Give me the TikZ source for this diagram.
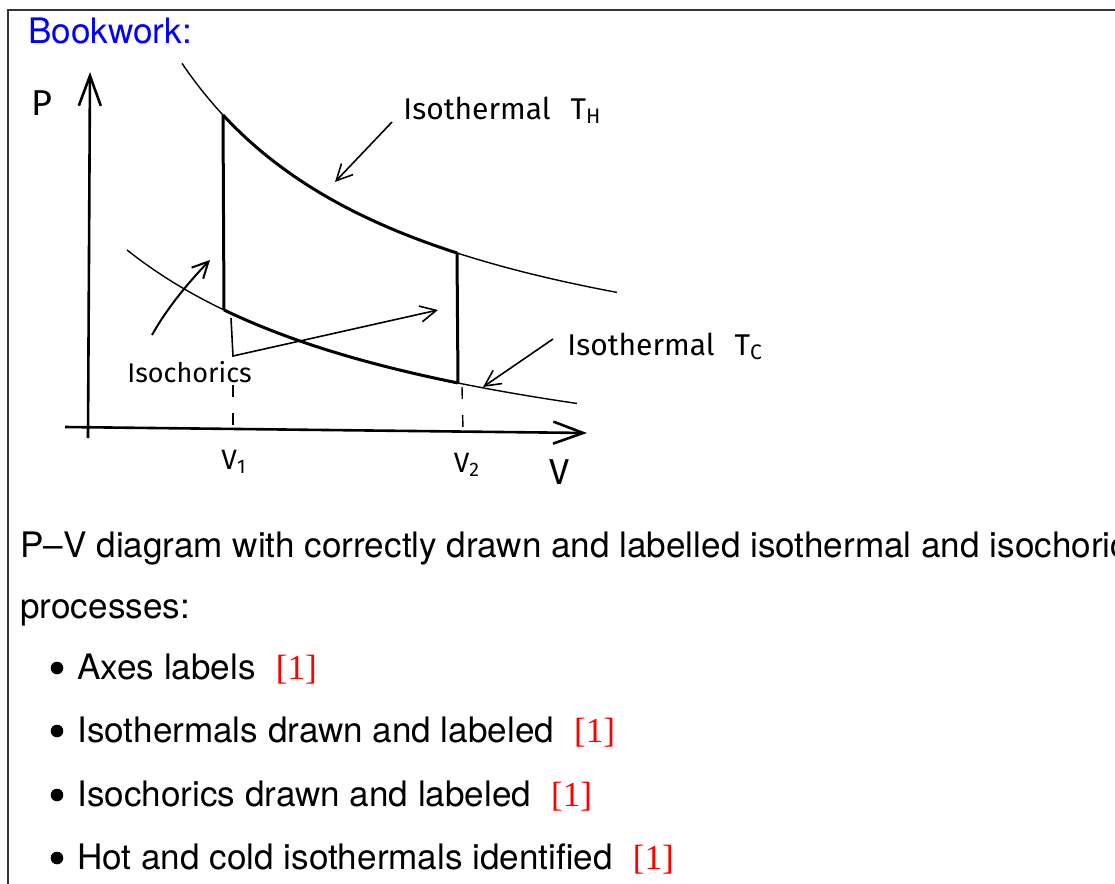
\documentclass[tikz,border=0pt]{standalone}
\usepackage{fontspec}
\setmainfont{TeX Gyre Heros}
\newfontfamily\handfont{Fira Sans}
\newfontfamily\markfont{Liberation Serif}
\usepackage{xcolor}
\usetikzlibrary{arrows.meta}
\newcommand{\markone}{\hspace{10pt}{\markfont\color{red}[1]}}

\begin{document}
\begin{tikzpicture}[
  x=0.5pt, y=-0.5pt,
  >={Straight Barb[length=8pt, width=8pt]},
  every node/.style={inner sep=0pt},
  bodytext/.style={anchor=base west, font=\fontsize{17.55}{20}\selectfont},
  hand/.style={anchor=base west, font=\handfont\fontsize{15}{18}\selectfont},
  axislbl/.style={anchor=center, font=\handfont\fontsize{18}{20}\selectfont},
  axis/.style={line width=1.3pt, -{Straight Barb[length=15pt, width=11pt]}},
  thinline/.style={line width=0.7pt},
  cycleline/.style={line width=1.5pt},
  pointer/.style={line width=0.8pt, ->},
  projline/.style={line width=0.7pt, dash pattern=on 6pt off 8pt},
  bulletdot/.style={circle, fill, minimum size=6.3pt}
]
\useasboundingbox (0,0) rectangle (1115,884);

% frame
\draw[gray!40!black, line width=0.8pt] (8,884) -- (8,10) -- (1115,10);

\node[bodytext, text=blue] (bookwork) at (28,43) {Bookwork:};

% axes
\coordinate (origB) at (88,438);
\coordinate (pTop) at (90,72);
\coordinate (vLeft) at (65,427);
\coordinate (vRight) at (587,433);
\draw[axis] (origB) -- (pTop);
\draw[axis] (vLeft) -- (vRight);
\node[axislbl] (pLbl) at (42,103) {P};
\node[axislbl] (vLbl) at (560,472) {V};
\node[axislbl, font=\handfont\fontsize{14}{16}\selectfont] (v1Lbl) at (234,462) {V\textsubscript{1}};
\node[axislbl, font=\handfont\fontsize{14}{16}\selectfont] (v2Lbl) at (467,465) {V\textsubscript{2}};

% corners of the cycle
\coordinate (hotL) at (223,115);
\coordinate (hotR) at (457,253);
\coordinate (coldL) at (224,310);
\coordinate (coldR) at (458,383);

% isothermals (P ~ 1/V)
\draw[thinline] plot[domain=182:617, samples=80] (\x, {419.8-862.5/((\x+60)/100)});
\draw[thinline] plot[domain=127:577, samples=80] (\x, {518.4-904.6/((\x+210)/100)});
\draw[cycleline] plot[domain=223:457, samples=60] (\x, {419.8-862.5/((\x+60)/100)});
\draw[cycleline] plot[domain=224:458, samples=60] (\x, {518.4-904.6/((\x+210)/100)});

% isochorics
\draw[cycleline] (hotL) -- (coldL);
\draw[cycleline] (hotR) -- (coldR);

% projections onto V
\coordinate (v1Top) at (233,385);
\coordinate (v1Foot) at (233,428);
\coordinate (v2Top) at (462,387);
\coordinate (v2Foot) at (463,430);
\draw[projline] (v1Top) -- (v1Foot);
\draw[projline] (v2Top) -- (v2Foot);

% labels and pointers
\node[hand] (thLbl) at (403,119) {Isothermal\hspace{10pt}T\textsubscript{H}};
\node[hand] (tcLbl) at (567,355) {Isothermal\hspace{10pt}T\textsubscript{C}};
\node[hand, font=\handfont\fontsize{13.5}{16}\selectfont] (isoLbl) at (127,382) {Isochorics};

\coordinate (thFrom) at (392,122);
\coordinate (thTo) at (335,182);
\draw[pointer] (thFrom) -- (thTo);

\coordinate (tcFrom) at (553,339);
\coordinate (tcTo) at (483,387);
\draw[pointer] (tcFrom) -- (tcTo);

\coordinate (isoFromA) at (152,335);
\coordinate (isoToA) at (210,260);
\draw[pointer, line width=1pt] (isoFromA) .. controls (166,310) and (186,285) .. (isoToA);

\coordinate (isoFromB) at (231,318);
\coordinate (isoBend) at (233,356);
\coordinate (isoToB) at (438,310);
\draw[pointer] (isoFromB) -- (isoBend) -- (isoToB);

% marking text
\node[bodytext] (desc1) at (20,557) {P–V diagram with correctly drawn and labelled isothermal and isochoric};
\node[bodytext] (desc2) at (20,618) {processes:};

\node[bulletdot] (bul1) at (57,668) {};
\node[bulletdot] (bul2) at (57,731) {};
\node[bulletdot] (bul3) at (57,795) {};
\node[bulletdot] (bul4) at (57,858) {};
\node[bodytext] (item1) at (77,679) {Axes labels\markone};
\node[bodytext] (item2) at (77,742) {Isothermals drawn and labeled\markone};
\node[bodytext] (item3) at (77,806) {Isochorics drawn and labeled\markone};
\node[bodytext] (item4) at (77,869) {Hot and cold isothermals identified\markone};

\end{tikzpicture}
\end{document}
